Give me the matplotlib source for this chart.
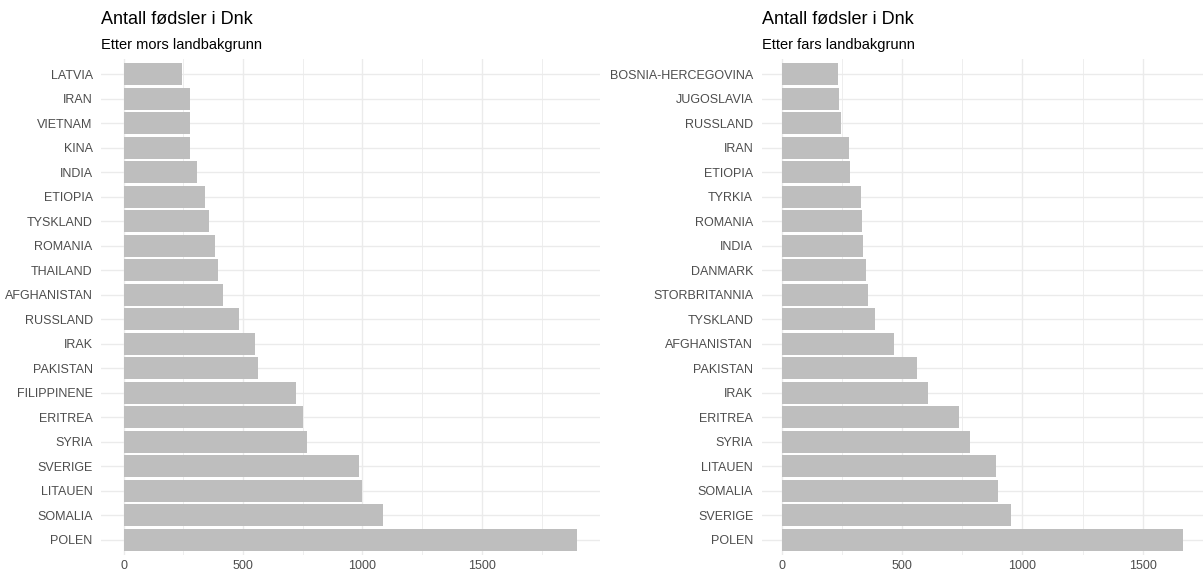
import matplotlib
matplotlib.use("Agg")
import matplotlib.pyplot as plt
from matplotlib.ticker import MultipleLocator

# Data (ordered from bottom bar to top bar)
mor_land = ["POLEN", "SOMALIA", "LITAUEN", "SVERIGE", "SYRIA", "ERITREA",
            "FILIPPINENE", "PAKISTAN", "IRAK", "RUSSLAND", "AFGHANISTAN",
            "THAILAND", "ROMANIA", "TYSKLAND", "ETIOPIA", "INDIA", "KINA",
            "VIETNAM", "IRAN", "LATVIA"]
mor_antall = [1900, 1085, 998, 984, 768, 751, 722, 563, 550, 481, 418,
              397, 381, 359, 341, 309, 279, 278, 276, 244]

far_land = ["POLEN", "SVERIGE", "SOMALIA", "LITAUEN", "SYRIA", "ERITREA",
            "IRAK", "PAKISTAN", "AFGHANISTAN", "TYSKLAND", "STORBRITANNIA",
            "DANMARK", "INDIA", "ROMANIA", "TYRKIA", "ETIOPIA", "IRAN",
            "RUSSLAND", "JUGOSLAVIA", "BOSNIA-HERCEGOVINA"]
far_antall = [1666, 954, 898, 889, 782, 737, 608, 561, 465, 389, 357,
              349, 336, 333, 328, 285, 279, 245, 240, 236]

titles = ["Antall fødsler i Dnk", "Antall fødsler i Dnk"]
subtitles = ["Etter mors landbakgrunn", "Etter fars landbakgrunn"]

plt.rcParams['font.family'] = ['Liberation Sans', 'DejaVu Sans']

W, H = 1203, 576
fig = plt.figure(figsize=(W / 100, H / 100), dpi=100)
fig.patch.set_facecolor("white")

panels = [(101, 600), (761.5, 1203)]
top_px, bot_px = 59.3, 554.7

datasets = [(mor_land, mor_antall), (far_land, far_antall)]

for i, ((lx, rx), (labels, vals)) in enumerate(zip(panels, datasets)):
    ax = fig.add_axes([lx / W, (H - bot_px) / H, (rx - lx) / W, (bot_px - top_px) / H])
    n = len(labels)
    ypos = list(range(n))
    vmax = max(vals)
    ax.set_xlim(-0.05 * vmax, 1.05 * vmax)
    ax.set_ylim(-0.6, n - 0.4)
    ax.set_axisbelow(True)
    ax.barh(ypos, vals, height=0.9, color="#BEBEBE", zorder=2)
    ax.set_yticks(ypos)
    ax.set_yticklabels(labels)
    ax.xaxis.set_major_locator(MultipleLocator(500))
    ax.xaxis.set_minor_locator(MultipleLocator(250))
    ax.grid(which="major", axis="both", color="#EBEBEB", linewidth=1.0)
    ax.grid(which="minor", axis="x", color="#EBEBEB", linewidth=0.6)
    for s in ax.spines.values():
        s.set_visible(False)
    ax.tick_params(axis="both", which="both", length=0, labelsize=9, colors="#4D4D4D")
    ax.tick_params(axis="y", pad=6)
    ax.tick_params(axis="x", pad=4)
    ax.set_facecolor("white")
    fig.text(lx / W, 1 - 20 / H, titles[i], fontsize=13, color="black", va="center", ha="left")
    fig.text(lx / W, 1 - 45 / H, subtitles[i], fontsize=10.5, color="black", va="center", ha="left")

fig.savefig("out.png", dpi=100)
